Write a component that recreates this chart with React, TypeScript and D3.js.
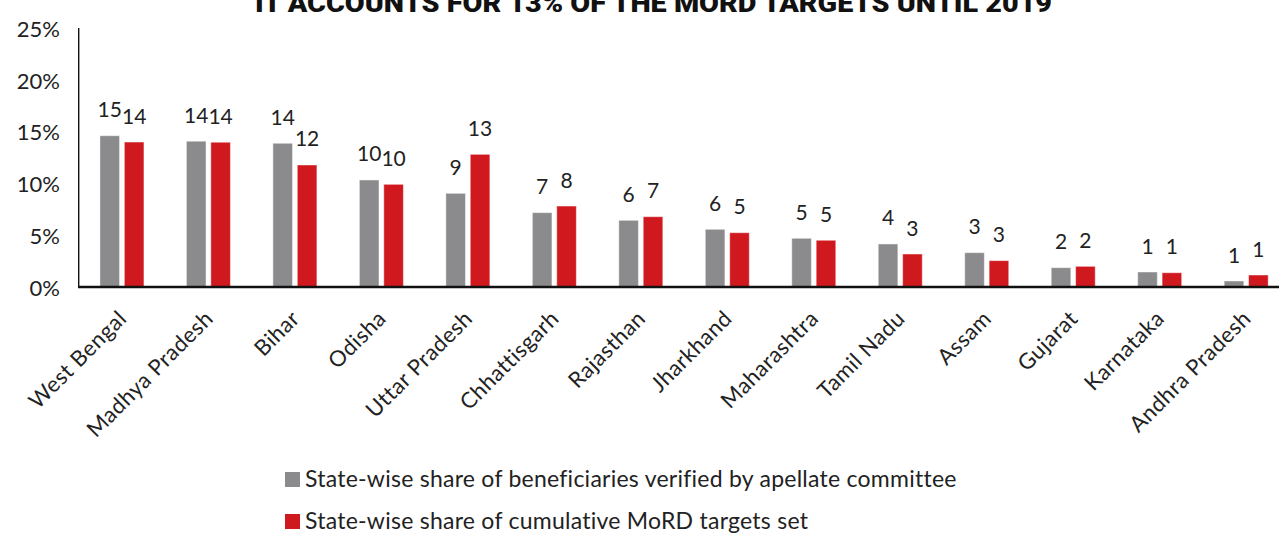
import React from "react";
import * as d3 from "d3";

const categories = [
  "West Bengal",
  "Madhya Pradesh",
  "Bihar",
  "Odisha",
  "Uttar Pradesh",
  "Chhattisgarh",
  "Rajasthan",
  "Jharkhand",
  "Maharashtra",
  "Tamil Nadu",
  "Assam",
  "Gujarat",
  "Karnataka",
  "Andhra Pradesh",
];

// State-wise share of beneficiaries verified by apellate committee (%)
const verifiedShare = [14.63, 14.1, 13.9, 10.35, 9.06, 7.19, 6.45, 5.58, 4.71, 4.16, 3.32, 1.87, 1.45, 0.58];
// State-wise share of cumulative MoRD targets set (%)
const targetShare = [14.02, 14.0, 11.8, 9.93, 12.83, 7.83, 6.8, 5.25, 4.52, 3.19, 2.55, 2.0, 1.38, 1.16];

const yTicks = [0, 5, 10, 15, 20, 25];
const seriesKeys = ["verified", "target"];
const seriesNames = [
  "State-wise share of beneficiaries verified by apellate committee",
  "State-wise share of cumulative MoRD targets set",
];
const seriesColors = ["#8B8B8D", "#D0191F"];
const title = "IT ACCOUNTS FOR 13% OF THE MORD TARGETS UNTIL 2019";

const W = 1279;
const H = 534;
const FONT = "Lato, 'Open Sans', sans-serif";

export default function App() {
  const x0 = d3.scaleBand<string>().domain(categories).range([78.7, 78.7 + 14 * 86.48]).padding(0);
  const x1 = d3
    .scaleBand<string>()
    .domain(seriesKeys)
    .range([x0.bandwidth() / 2 - 22, x0.bandwidth() / 2 + 22])
    .paddingInner(0.197)
    .paddingOuter(0);
  const y = d3.scaleLinear().domain([0, 25]).range([287, 28.5]);
  const fmt = d3.format(".0f");
  const values = [verifiedShare, targetShare];

  return (
    <svg
      width={W}
      height={H}
      style={{ position: "absolute", left: 0, top: 0, display: "block", background: "#fff" }}
    >
      <text
        x={255}
        y={12}
        fontFamily="Roboto, sans-serif"
        fontWeight={900}
        fontSize={26}
        textLength={797}
        lengthAdjust="spacingAndGlyphs"
        fill="#111"
      >
        {title}
      </text>

      {/* y axis labels */}
      {yTicks.map((t) => (
        <text
          key={t}
          x={60}
          y={y(t)}
          textAnchor="end"
          dominantBaseline="central"
          fontFamily={FONT}
          fontSize={22}
          fill="#222"
        >
          {t + "%"}
        </text>
      ))}

      {/* bars */}
      {categories.map((c, i) => (
        <g key={c} transform={`translate(${x0(c)},0)`}>
          {seriesKeys.map((k, s) => (
            <rect
              key={k}
              x={x1(k)}
              y={y(values[s][i])}
              width={x1.bandwidth()}
              height={y(0) - y(values[s][i])}
              fill={seriesColors[s]}
              stroke="rgba(255,255,255,0.45)"
              strokeWidth={1}
            />
          ))}
          {seriesKeys.map((k, s) => (
            <text
              key={k + "l"}
              x={(x1(k) as number) + x1.bandwidth() / 2}
              y={y(values[s][i]) - 18.5}
              textAnchor="middle"
              fontFamily={FONT}
              fontSize={21}
              fill="#222"
            >
              {fmt(values[s][i])}
            </text>
          ))}
        </g>
      ))}

      {/* axes lines */}
      <line x1={78.7} x2={78.7} y1={28} y2={287} stroke="#111" strokeWidth={1.4} />
      <line x1={78} x2={W} y1={287} y2={287} stroke="#111" strokeWidth={2.6} />

      {/* category labels */}
      {categories.map((c) => {
        const cx = (x0(c) as number) + x0.bandwidth() / 2 + 6;
        const cy = 320;
        return (
          <text
            key={c + "cat"}
            transform={`translate(${cx},${cy}) rotate(-45)`}
            textAnchor="end"
            fontFamily={FONT}
            fontSize={22}
            letterSpacing={0.5}
            fill="#222"
          >
            {c}
          </text>
        );
      })}

      {/* legend */}
      {seriesNames.map((n, s) => (
        <g key={n} transform={`translate(285,${472 + s * 42})`}>
          <rect x={0} y={0} width={15} height={15} fill={seriesColors[s]} />
          <text x={20} y={15.3} fontFamily={FONT} fontSize={23} letterSpacing={0.25} fill="#222">
            {n}
          </text>
        </g>
      ))}
    </svg>
  );
}
